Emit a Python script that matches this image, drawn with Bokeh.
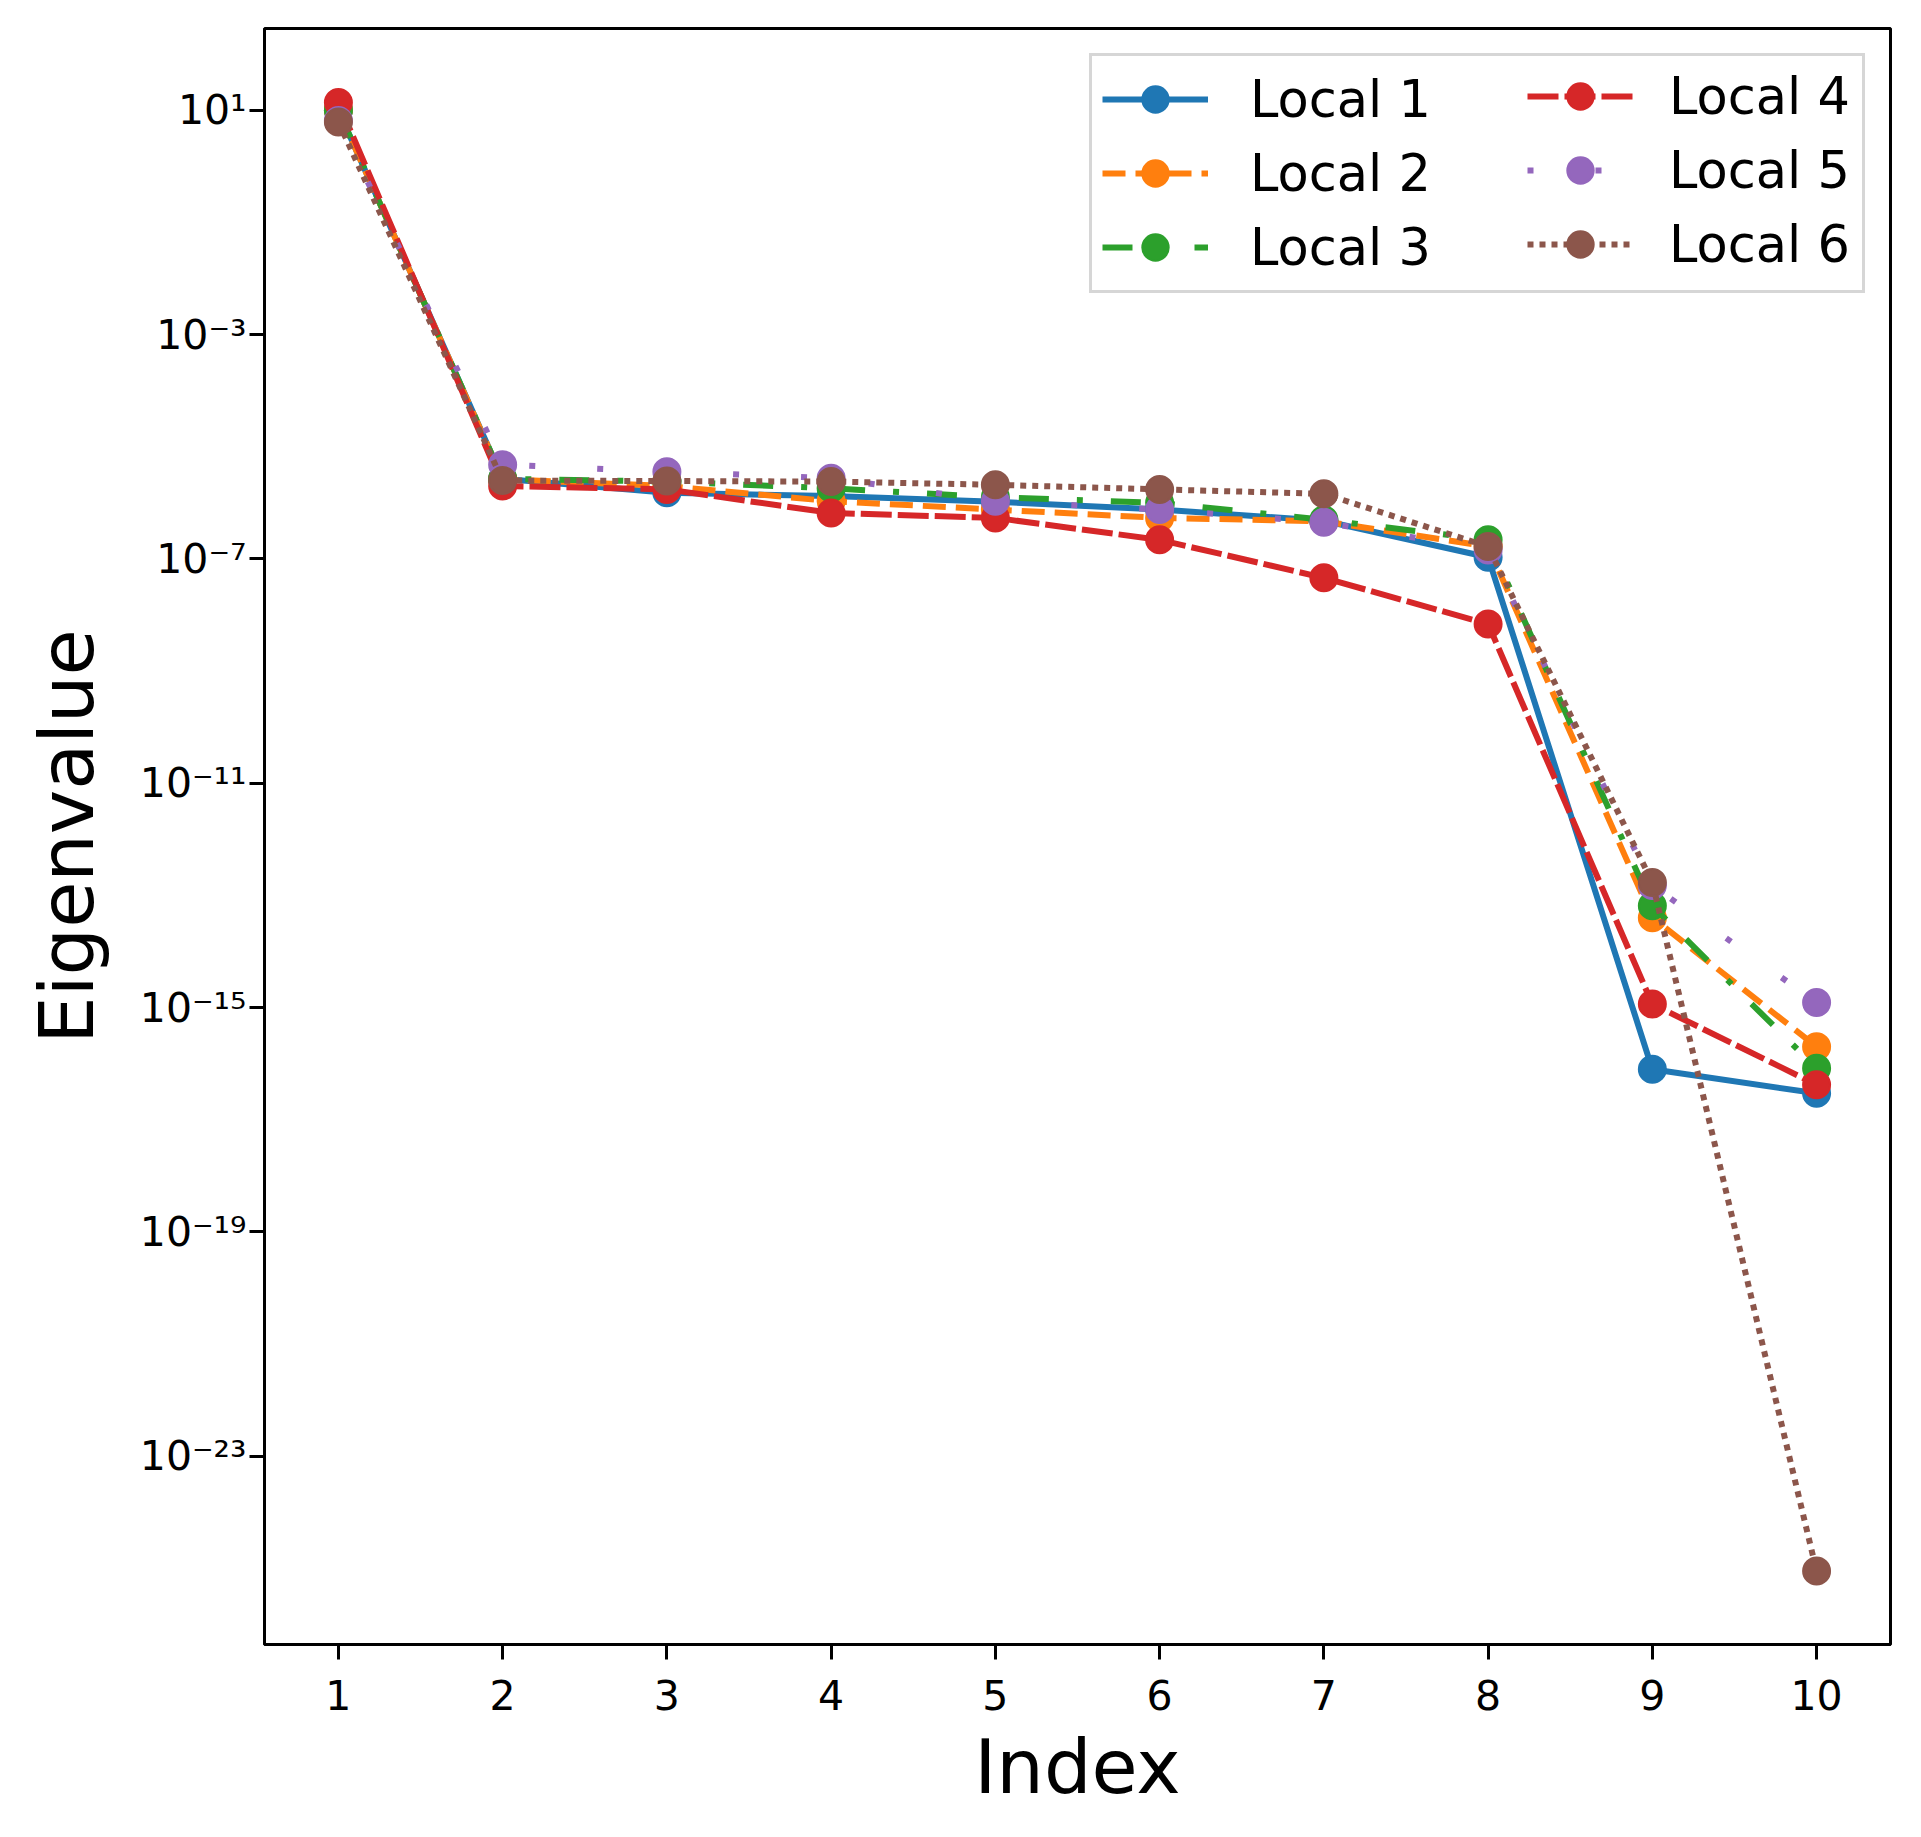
from bokeh.plotting import figure
from bokeh.models import Range1d, FixedTicker, CustomJSTickFormatter, Legend, LegendItem
from bokeh.embed import file_html
from bokeh.resources import INLINE

# ---------------- data ----------------
index = [1, 2, 3, 4, 5, 6, 7, 8, 9, 10]

local1 = [10.0, 2.69e-6, 1.51e-6, 1.32e-6, 1.05e-6, 7.6e-7, 4.8e-7, 1.07e-7, 7.9e-17, 2.95e-17]
local2 = [10.0, 2.63e-6, 2.0e-6, 1.07e-6, 7.6e-7, 5.4e-7, 4.7e-7, 1.66e-7, 4.0e-14, 2.0e-16]
local3 = [10.0, 2.69e-6, 2.4e-6, 1.82e-6, 1.26e-6, 1.0e-6, 5.0e-7, 2.19e-7, 6.5e-14, 8.3e-17]
local4 = [13.8, 2.0e-6, 1.74e-6, 6.6e-7, 5.4e-7, 2.19e-7, 4.6e-8, 6.9e-9, 1.15e-15, 4.2e-17]
local5 = [6.6, 4.8e-6, 3.6e-6, 2.75e-6, 1.07e-6, 7.6e-7, 4.5e-7, 1.45e-7, 1.5e-13, 1.23e-15]
local6 = [6.2, 2.5e-6, 2.45e-6, 2.4e-6, 2.1e-6, 1.74e-6, 1.45e-6, 1.66e-7, 1.7e-13, 8.9e-26]

series_names = ["Local 1", "Local 2", "Local 3", "Local 4", "Local 5", "Local 6"]
series_values = [local1, local2, local3, local4, local5, local6]

x_ticks = [1, 2, 3, 4, 5, 6, 7, 8, 9, 10]
y_tick_exps = [1, -3, -7, -11, -15, -19, -23]
y_tick_labels = ["10¹", "10⁻³", "10⁻⁷", "10⁻¹¹", "10⁻¹⁵", "10⁻¹⁹", "10⁻²³"]

# ---------------- styles ----------------
colors = ["#1f77b4", "#ff7f0e", "#2ca02c", "#d62728", "#9467bd", "#8c564b"]
dashes = ["solid", "23 10", "30 28 6 28", "31 6", "6 62", "6 6"]

FONT = "DejaVu Sans"

p = figure(
    width=1905, height=1832,
    output_backend="svg", toolbar_location=None,
    y_axis_type="log",
    x_range=Range1d(0.55, 10.45),
    y_range=Range1d(10 ** -26.36, 10 ** 2.46),
    min_border_left=264, min_border_top=28,
    min_border_right=15, min_border_bottom=188,
    background_fill_color="white", border_fill_color="white",
)

p.xgrid.visible = False
p.ygrid.visible = False
p.outline_line_color = "black"
p.outline_line_width = 3
p.outline_line_alpha = 1.0

p.xaxis.ticker = FixedTicker(ticks=x_ticks)
p.yaxis.ticker = FixedTicker(ticks=[10.0 ** e for e in y_tick_exps])
p.yaxis.formatter = CustomJSTickFormatter(
    args=dict(exps=y_tick_exps, labels=y_tick_labels),
    code="const e = Math.round(Math.log10(tick)); const i = exps.indexOf(e); return i >= 0 ? labels[i] : '';",
)

p.xaxis.axis_label = "Index"
p.yaxis.axis_label = "Eigenvalue"

for ax in (p.xaxis[0], p.yaxis[0]):
    ax.axis_line_color = "black"
    ax.axis_line_width = 3
    ax.major_tick_line_color = "black"
    ax.major_tick_line_width = 3
    ax.major_tick_out = 15
    ax.major_tick_in = 0
    ax.minor_tick_line_color = None
    ax.major_label_text_font = FONT
    ax.major_label_text_font_size = "41px"
    ax.major_label_text_color = "black"
    ax.axis_label_text_font = FONT
    ax.axis_label_text_font_size = "75px"
    ax.axis_label_text_font_style = "normal"
    ax.axis_label_text_color = "black"

p.xaxis.major_label_standoff = 20
p.xaxis.axis_label_standoff = 10
p.yaxis.major_label_standoff = 3
p.yaxis.axis_label_standoff = 26

items = []
for name, vals, c, d in zip(series_names, series_values, colors, dashes):
    rl = p.line(index, vals, line_color=c, line_width=6, line_dash=d,
                line_join="round", line_cap="butt")
    rs = p.scatter(index, vals, size=27, marker="circle",
                   fill_color=c, line_color=c, line_width=2)
    items.append(LegendItem(label=name, renderers=[rl, rs]))

common = dict(
    location="top_right", margin=25, padding=10, spacing=8,
    glyph_width=106, glyph_height=66,
    label_text_font=FONT, label_text_font_size="51px",
    label_text_color="black", label_text_baseline="middle",
)

legA = Legend(items=items[:3], label_width=602, label_standoff=42,
              border_line_color="#cccccc", border_line_width=3, border_line_alpha=0.8,
              background_fill_color="white", background_fill_alpha=0.8, **common)
legB = Legend(items=items[3:], label_width=186, label_standoff=36,
              border_line_alpha=0.0, background_fill_alpha=0.0, **common)
p.add_layout(legA)
p.add_layout(legB)

open("out.html", "w").write(file_html(p, INLINE))
